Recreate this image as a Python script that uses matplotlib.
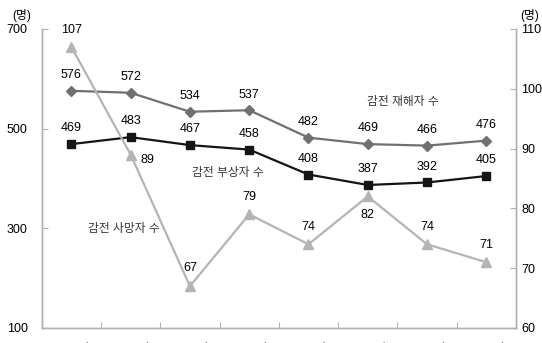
import matplotlib
matplotlib.use("Agg")
import matplotlib.pyplot as plt

plt.rcParams['font.family'] = ['Liberation Sans', 'Noto Sans CJK KR', 'DejaVu Sans']

years = ['2004년', '2005년', '2006년', '2007년', '2008년', '2009년', '2010년', '2011년']
casualties = [576, 572, 534, 537, 482, 469, 466, 476]   # 감전 재해자 수
injured = [469, 483, 467, 458, 408, 387, 392, 405]      # 감전 부상자 수
deaths = [107, 89, 67, 79, 74, 82, 74, 71]              # 감전 사망자 수 (right axis)

W, H = 542, 343
fig = plt.figure(figsize=(W / 100, H / 100), dpi=100)
left, right, bottom, top = 41.7, 516, 328, 29
ax = fig.add_axes([left / W, 1 - bottom / H, (right - left) / W, (bottom - top) / H])
ax2 = ax.twinx()

x = list(range(len(years)))
spine_c = '#b0b0b0'
fs = 9
kfs = 8.5

ax.plot(x, casualties, color='#707070', lw=1.6, marker='D', ms=5, zorder=3)
ax.plot(x, injured, color='#151515', lw=1.6, marker='s', ms=6, zorder=3)
ax2.plot(x, deaths, color='#b4b4b4', lw=1.6, marker='^', ms=7, zorder=3)

ax.set_xlim(-0.5, len(years) - 0.5)
ax.set_ylim(100, 700)
ax.set_yticks([100, 300, 500, 700])
ax2.set_ylim(60, 110)
ax2.set_yticks([60, 70, 80, 90, 100, 110])

ax.set_xticks([i - 0.5 for i in range(len(years) + 1)], minor=False)
ax.set_xticklabels([''] * (len(years) + 1))
ax.set_xticks(x, minor=True)
ax.set_xticklabels(years, minor=True, fontsize=kfs, color='#555555')
ax.tick_params(axis='x', which='minor', length=0, pad=11)
ax.tick_params(axis='x', which='major', direction='in', length=4, color=spine_c)
ax.tick_params(axis='y', direction='in', length=4, color=spine_c, labelsize=fs, pad=10)
ax2.tick_params(axis='y', direction='in', length=4, color=spine_c, labelsize=fs, pad=4)

for a in (ax, ax2):
    a.spines['top'].set_visible(False)
    for s in ('left', 'right', 'bottom'):
        a.spines[s].set_color(spine_c)
        a.spines[s].set_linewidth(1.0)

# value labels
for i, v in enumerate(casualties):
    ax.annotate(str(v), (i, v), xytext=(0, 7), textcoords='offset points',
                ha='center', va='bottom', fontsize=fs)
for i, v in enumerate(injured):
    ax.annotate(str(v), (i, v), xytext=(0, 7), textcoords='offset points',
                ha='center', va='bottom', fontsize=fs)
death_offsets = [(0, 8, 'center', 'bottom'), (12, -4, 'center', 'center'),
                 (0, 9, 'center', 'bottom'), (0, 8, 'center', 'bottom'),
                 (0, 8, 'center', 'bottom'), (0, -9, 'center', 'top'),
                 (0, 8, 'center', 'bottom'), (0, 8, 'center', 'bottom')]
for i, v in enumerate(deaths):
    dx, dy, ha, va = death_offsets[i]
    ax2.annotate(str(v), (i, v), xytext=(dx, dy), textcoords='offset points',
                 ha=ha, va=va, fontsize=fs)

# series names
fig.text(403 / W, 1 - 102 / H, '감전 재해자 수', ha='center', va='center', fontsize=kfs, color='#333333')
fig.text(228 / W, 1 - 173 / H, '감전 부상자 수', ha='center', va='center', fontsize=kfs, color='#333333')
fig.text(124 / W, 1 - 229 / H, '감전 사망자 수', ha='center', va='center', fontsize=kfs, color='#333333')

# unit labels
fig.text(22 / W, 1 - 16 / H, '(명)', ha='center', va='center', fontsize=kfs)
fig.text(530 / W, 1 - 16 / H, '(명)', ha='center', va='center', fontsize=kfs)

fig.savefig('out.png', dpi=100)
